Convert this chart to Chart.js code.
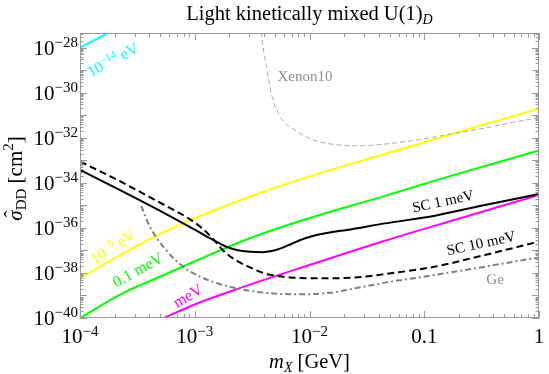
<!DOCTYPE html>
<html><head><meta charset="utf-8">
<script src="https://cdn.jsdelivr.net/npm/chart.js@4/dist/chart.umd.min.js"></script>
<style>html,body{margin:0;padding:0;background:#fff;overflow:hidden}</style>
</head><body>
<canvas id="c" width="549" height="374"></canvas>
<script>
// ---- data (log10 of m_X [GeV]  and log10 of sigma [cm^2]) ----
const sc1X  = [-4, -3.625, -3.233, -3.0, -2.838, -2.72, -2.635, -2.519, -2.403, -2.33, -2.257, -2.18, -2.112, -2.03, -1.938, -1.8, -1.676, -1.342, -0.906, -0.471, 0];
const sc1Y  = [-33.43, -34.39, -35.43, -36.08, -36.54, -36.85, -36.98, -37.06, -37.08, -37.03, -36.92, -36.76, -36.61, -36.45, -36.32, -36.18, -36.09, -35.80, -35.46, -34.98, -34.50];
const sc10X = [-4, -3.625, -3.303, -3.15, -3.041, -2.94, -2.838, -2.78, -2.722, -2.62, -2.519, -2.43, -2.344, -2.2, -2.112, -1.821, -1.531, -1.342, -0.906, -0.471, 0];
const sc10Y = [-33.05, -34.00, -34.88, -35.30, -35.62, -36.00, -36.50, -36.85, -37.15, -37.50, -37.75, -37.95, -38.08, -38.18, -38.22, -38.24, -38.17, -38.05, -37.72, -37.20, -36.61];
const geX   = [-3.466, -3.43, -3.393, -3.35, -3.303, -3.25, -3.204, -3.13, -3.059, -2.96, -2.867, -2.767, -2.667, -2.519, -2.344, -2.112, -1.821, -1.531, -1.342, -0.906, -0.471, 0];
const geY   = [-35.02, -35.50, -35.92, -36.30, -36.65, -36.98, -37.25, -37.60, -37.88, -38.15, -38.35, -38.52, -38.65, -38.80, -38.90, -38.95, -38.88, -38.61, -38.43, -38.09, -37.72, -37.31];
const xenonX = [-2.42, -2.411, -2.373, -2.330, -2.257, -2.112, -1.967, -1.763, -1.531, -1.342, -1.052, -0.761, -0.471, -0.18, 0];
const xenonY = [-27.30, -27.75, -28.90, -30.09, -31.05, -31.71, -32.09, -32.31, -32.35, -32.28, -32.09, -31.83, -31.57, -31.27, -31.12];
const cyanX = [-4, -3.6];
const cyanY = [-28.0, -26.95];
const yellowX = [-4, -3.75, -3.5, -3.3, -3.0, -2.52, -2.024, -1.342, -0.67, 0];
const yellowY = [-38.24, -37.50, -36.80, -36.27, -35.58, -34.62, -33.76, -32.72, -31.70, -30.71];
const greenX = [-4, -3.625, -3.303, -2.519, -2.0, -1.342, -0.819, 0];
const greenY = [-40.0, -38.90, -38.17, -36.46, -35.57, -34.58, -33.77, -32.56];
const magentaX = [-3.35, -3.268, -3.0, -2.667, -2.019, -1.342, -0.67, 0];
const magentaY = [-40.18, -40.0, -39.40, -38.78, -37.68, -36.57, -35.55, -34.54];

// ---- axes / ticks ----
const xMin = -4, xMax = 0, yMin = -40, yMax = -27.35;
const xTickExps = [-4, -3, -2, -1, 0];
const xTickBase = ['10', '10', '10', '0.1', '1'];
const xTickSup  = ['\u22124', '\u22123', '\u22122', '', ''];
const yTickExps = [-40, -38, -36, -34, -32, -30, -28];
const yTickBase = ['10', '10', '10', '10', '10', '10', '10'];
const yTickSup  = ['\u221240', '\u221238', '\u221236', '\u221234', '\u221232', '\u221230', '\u221228'];

const CYAN = '#00ffff', YELLOW = '#ffff00', GREEN = '#00ff00', MAGENTA = '#ff00ff';
const FONT = '"Liberation Serif","Times New Roman","DejaVu Serif",serif';
const f = (s, it) => (it ? 'italic ' : '') + s + 'px ' + FONT;

function rich(ctx, parts, x, y, align) {
  let w = 0;
  parts.forEach(p => { ctx.font = f(p.s, p.i); p.w = ctx.measureText(p.t).width; w += p.w; });
  let cx = align === 'right' ? x - w : align === 'center' ? x - w / 2 : x;
  ctx.textAlign = 'left'; ctx.textBaseline = 'alphabetic';
  parts.forEach(p => {
    ctx.font = f(p.s, p.i);
    ctx.fillText(p.t, cx, y + (p.dy || 0));
    if (p.hat) {
      ctx.font = f(p.s, false);
      const hw = ctx.measureText('\u02C6').width;
      ctx.fillText('\u02C6', cx + p.w / 2 - hw / 2 + 1.5, y - 3);
    }
    cx += p.w;
  });
}

const curveLabels = [
  {parts: [{t:'10',s:16},{t:'\u221214',s:11,dy:-6},{t:' eV',s:16}], x:-3.712, y:-28.55, a:28, c:CYAN},
  {parts: [{t:'10',s:16},{t:'\u22128',s:11,dy:-6},{t:' eV',s:16}], x:-3.712, y:-36.85, a:33, c:YELLOW},
  {parts: [{t:'0.1 meV',s:16}], x:-3.495, y:-37.87, a:29, c:GREEN},
  {parts: [{t:'meV',s:16}], x:-3.059, y:-39.02, a:30, c:MAGENTA},
  {parts: [{t:'SC 1 meV',s:15}], x:-0.837, y:-34.81, a:12, c:'#000'},
  {parts: [{t:'SC 10 meV',s:15}], x:-0.505, y:-36.67, a:12, c:'#000'},
  {parts: [{t:'Ge',s:15}], x:-0.383, y:-38.27, a:0, c:'#8c8c8c'},
  {parts: [{t:'Xenon10',s:15}], x:-2.039, y:-29.26, a:0, c:'#8c8c8c'}
];

const overlay = {
  id: 'overlay',
  afterDatasetsDraw(chart) {
    const {ctx, chartArea: A, scales: {x, y}} = chart;
    const px = e => x.getPixelForValue(Math.pow(10, e));
    const py = e => y.getPixelForValue(Math.pow(10, e));
    ctx.save();
    // frame
    ctx.strokeStyle = '#999'; ctx.lineWidth = 1;
    ctx.strokeRect(A.left + 0.5, A.top + 0.5, A.right - A.left - 1, A.bottom - A.top - 1);
    ctx.beginPath();
    for (let d = xMin; d <= xMax; d++) {
      for (let k = 1; k <= 9; k++) {
        const e = d + Math.log10(k);
        if (e > xMax + 1e-9) break;
        const X = Math.round(px(e)) + 0.5, L = k === 1 ? 7 : 4;
        ctx.moveTo(X, A.bottom); ctx.lineTo(X, A.bottom - L);
        ctx.moveTo(X, A.top); ctx.lineTo(X, A.top + L);
      }
    }
    for (let d = yMin; d <= Math.floor(yMax); d++) {
      for (let k = 1; k <= 9; k++) {
        const e = d + Math.log10(k);
        if (e > yMax) break;
        const Y = Math.round(py(e)) + 0.5, L = k === 1 ? 7 : 3.5;
        ctx.moveTo(A.left, Y); ctx.lineTo(A.left + L, Y);
        ctx.moveTo(A.right, Y); ctx.lineTo(A.right - L, Y);
      }
    }
    ctx.stroke();
    // tick labels
    ctx.fillStyle = '#000';
    xTickExps.forEach((e, i) => {
      const parts = [{t: xTickBase[i], s: 21}];
      if (xTickSup[i]) parts.push({t: xTickSup[i], s: 15, dy: -7});
      rich(ctx, parts, px(e), A.bottom + 25, 'center');
    });
    yTickExps.forEach((e, i) => {
      rich(ctx, [{t: yTickBase[i], s: 21}, {t: yTickSup[i], s: 15, dy: -8}], A.left - 2, py(e) + 7, 'right');
    });
    // title
    rich(ctx, [{t:'Light kinetically mixed U(1)', s:20.5}, {t:'D', s:14, i:true, dy:4}], (A.left + A.right) / 2, 20, 'center');
    // x title
    rich(ctx, [{t:'m', s:20.5, i:true}, {t:'X', s:14, i:true, dy:4}, {t:' [GeV]', s:20.5}], (A.left + A.right) / 2, 368, 'center');
    // y title
    ctx.save();
    ctx.translate(22, (A.top + A.bottom) / 2 + 3);
    ctx.rotate(-Math.PI / 2);
    rich(ctx, [{t:'\u03C3', s:21, i:true, hat:true}, {t:'DD', s:15, dy:4}, {t:' [cm', s:21}, {t:'2', s:15, dy:-9}, {t:']', s:21}], 0, 0, 'center');
    ctx.restore();
    // curve labels
    curveLabels.forEach(L => {
      ctx.save();
      ctx.translate(px(L.x), py(L.y));
      ctx.rotate(-L.a * Math.PI / 180);
      ctx.fillStyle = L.c;
      rich(ctx, L.parts, 0, 5, 'center');
      ctx.restore();
    });
    ctx.restore();
  }
};

const mk = (xs, ys) => xs.map((v, i) => ({x: Math.pow(10, v), y: Math.pow(10, ys[i])}));
const base = {pointRadius: 0, fill: false, cubicInterpolationMode: 'monotone', clip: 0, borderCapStyle: 'butt'};

new Chart(document.getElementById('c'), {
  type: 'line',
  data: {
    datasets: [
      Object.assign({label: 'SC 1 meV', data: mk(sc1X, sc1Y), borderColor: '#000', borderWidth: 2}, base),
      Object.assign({label: 'SC 10 meV', data: mk(sc10X, sc10Y), borderColor: '#000', borderWidth: 2, borderDash: [7, 4]}, base),
      Object.assign({label: 'Ge', data: mk(geX, geY), borderColor: '#808080', borderWidth: 2, borderDash: [6, 3, 2, 3]}, base),
      Object.assign({label: 'Xenon10', data: mk(xenonX, xenonY), borderColor: '#aaaaaa', borderWidth: 1, borderDash: [5, 3]}, base),
      Object.assign({label: '1e-14 eV', data: mk(cyanX, cyanY), borderColor: CYAN, borderWidth: 2}, base),
      Object.assign({label: '1e-8 eV', data: mk(yellowX, yellowY), borderColor: YELLOW, borderWidth: 2}, base),
      Object.assign({label: '0.1 meV', data: mk(greenX, greenY), borderColor: GREEN, borderWidth: 2}, base),
      Object.assign({label: 'meV', data: mk(magentaX, magentaY), borderColor: MAGENTA, borderWidth: 2}, base)
    ]
  },
  options: {
    responsive: false, animation: false, devicePixelRatio: 1,
    layout: {padding: {left: 80, right: 10, top: 33, bottom: 56}},
    plugins: {legend: {display: false}, tooltip: {enabled: false}},
    scales: {
      x: {type: 'logarithmic', min: Math.pow(10, xMin), max: Math.pow(10, xMax), display: false, bounds: 'data'},
      y: {type: 'logarithmic', min: Math.pow(10, yMin), max: Math.pow(10, yMax), display: false, bounds: 'data'}
    }
  },
  plugins: [overlay]
});
</script>
</body></html>
